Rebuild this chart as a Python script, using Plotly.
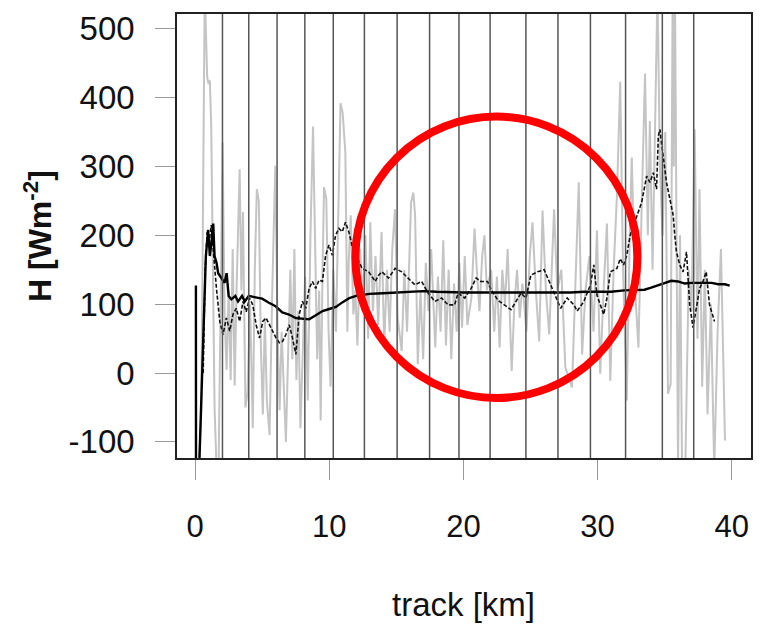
import plotly.graph_objects as go

# ---------------- data ----------------
# raw flux (light gray)
raw_km = [0.30, 0.45, 0.55, 0.65, 0.72, 0.80, 0.90, 1.00, 1.10, 1.20, 1.30, 1.45, 1.60, 1.75, 1.90,
          2.05, 2.20, 2.35, 2.50, 2.65, 2.80, 2.95, 3.10, 3.32, 3.45, 3.57, 3.75, 3.90, 4.10, 4.30,
          4.45, 4.60, 4.75, 4.90, 5.05, 5.20, 5.35, 5.55, 5.75, 5.98, 6.15, 6.30, 6.45, 6.60, 6.77,
          6.95, 7.10, 7.25, 7.40, 7.55, 7.70, 7.85, 8.00, 8.20, 8.40, 8.60, 8.79, 8.95, 9.10, 9.25,
          9.36, 9.50, 9.61, 9.78, 9.95, 10.10, 10.30, 10.50, 10.70, 10.84, 11.00, 11.20, 11.35, 11.45,
          11.60, 11.80, 11.95, 12.10, 12.30, 12.50, 12.70, 12.90, 13.06, 13.25, 13.45, 13.65, 13.90,
          14.10, 14.30, 14.50, 14.70, 14.90, 15.10, 15.40, 15.60, 15.80, 16.10, 16.27, 16.40, 16.60,
          16.80, 17.00, 17.20, 17.40, 17.60, 17.90, 18.10, 18.30, 18.50, 18.70, 18.90, 19.10, 19.30,
          19.50, 19.70, 19.90, 20.10, 20.30, 20.60, 20.83, 21.00, 21.20, 21.40, 21.57, 21.75, 22.07,
          22.30, 22.50, 22.70, 22.90, 23.10, 23.30, 23.60, 23.80, 24.00, 24.20, 24.40, 24.70, 24.95,
          25.15, 25.40, 25.65, 25.90, 26.15, 26.40, 26.76, 27.00, 27.30, 27.60, 28.10, 28.35, 28.60,
          28.85, 29.10, 29.40, 29.70, 29.96, 30.20, 30.45, 30.70, 30.95, 31.20, 31.45, 31.69, 31.90,
          32.18, 32.40, 32.55, 32.80, 33.05, 33.30, 33.54, 33.75, 33.90, 34.10, 34.47, 34.65, 34.85,
          35.05, 35.25, 35.45, 35.60, 35.68, 35.77, 36.00, 36.15, 36.30, 36.55, 36.80, 37.00, 37.24,
          37.45, 37.60, 37.80, 38.00, 38.20, 38.45, 38.70, 38.95, 39.20, 39.50]
raw_H = [-130, -60, 150, 420, 560, 500, 430, 420, 425, 360, 150, -50, -140, -140, 100,
         335, 80, 5, 120, -10, 180, -18, 130, 296, 120, 234, -50, -30, 100, -80,
         150, 267, 250, 40, -60, 80, -40, -90, 120, 301, 60, -54, 60, -20, -100,
         40, 150, 20, 180, -10, 90, -80, 30, 140, -40, 200, 358, 180, 20, 120,
         -69, 150, 270, 253, 60, -20, 150, 60, 250, 392, 378, 320, 60, 160,
         229, 85, 120, 40, 180, 100, 200, 50, 219, 90, 170, 70, 205,
         40, 150, 60, 180, 238, 80, 32, 150, 60, 248, 262, 229, 13,
         120, 20, 160, 90, 180, 37, 140, 60, 193, 40, 150, 20, 130,
         60, 160, 66, 170, 70, 110, 210, 150, 90, 170, 200, 120, 150,
         60, 140, 37, 150, 100, 180, 3, 100, 150, 80, 130, 60, 170,
         219, 120, 46, 236, 120, 56, 238, 120, 150, 8, -21, 130, 277,
         27, 120, 170, 60, 207, -1, 120, 217, -11, 150, 260, 423, 150,
         -40, 200, 313, 120, 37, 250, 435, 200, 366, 150, 560, 300, 200,
         350, -30, -16, 560, 300, 560, -140, 200, -140, -130, 150, 90, 354,
         50, 267, -20, 150, -60, 100, -140, 60, 180, -98]

# running mean (dashed)
run_km = [0.60, 0.75, 0.90, 1.05, 1.20, 1.35, 1.50, 1.59, 1.84, 2.08, 2.33, 2.58, 2.82, 3.07, 3.32,
          3.57, 3.81, 4.06, 4.30, 4.55, 4.80, 5.04, 5.29, 5.54, 5.78, 6.03, 6.28, 6.52, 6.77, 7.02,
          7.26, 7.51, 7.76, 8.00, 8.25, 8.50, 8.75, 8.99, 9.24, 9.49, 9.73, 9.98, 10.23, 10.47, 10.72,
          10.97, 11.21, 11.46, 11.70, 11.95, 12.20, 12.45, 12.94, 13.43, 13.68, 13.92, 14.42, 14.91,
          15.40, 15.90, 16.39, 16.89, 17.38, 17.87, 18.37, 18.86, 19.35, 19.60, 20.10, 20.58, 20.95,
          21.30, 21.80, 22.07, 22.56, 23.05, 23.55, 23.92, 24.29, 24.66, 25.03, 25.52, 26.02, 26.51,
          27.00, 27.25, 27.74, 28.24, 28.48, 28.98, 29.47, 29.72, 29.96, 30.46, 30.70, 30.95, 31.44,
          31.69, 31.94, 32.18, 32.43, 32.93, 33.29, 33.66, 33.91, 34.16, 34.40, 34.53, 34.65, 34.77,
          35.02, 35.14, 35.39, 35.64, 35.76, 35.88, 36.13, 36.38, 36.63, 36.87, 37.12, 37.36, 37.61,
          37.86, 38.10, 38.35, 38.60, 38.72]
run_H = [0, 150, 205, 190, 215, 180, 140, 123, 75, 56, 80, 61, 85, 94, 75,
         104, 89, 109, 99, 70, 51, 75, 80, 70, 61, 51, 44, 46, 56, 70,
         51, 27, 85, 104, 94, 123, 133, 123, 135, 133, 171, 186, 171, 200, 210,
         205, 219, 205, 185, 170, 162, 152, 147, 133, 142, 147, 138, 152,
         147, 138, 128, 133, 116, 104, 109, 99, 99, 116, 109, 123, 138,
         133, 133, 121, 106, 99, 92, 104, 116, 109, 142, 147, 150, 128,
         104, 94, 109, 99, 90, 104, 128, 157, 113, 85, 109, 147, 152,
         166, 157, 171, 200, 229, 248, 286, 277, 291, 267, 344, 354, 334,
         296, 277, 253, 229, 200, 176, 157, 147, 176, 99, 66, 94, 123,
         133, 147, 99, 80, 75]

# cumulative mean (solid)
cum_km = [0.06, 0.07, 0.30, 0.55, 0.80, 0.97, 1.10, 1.22, 1.35, 1.45, 1.60, 1.72, 1.97, 2.20, 2.35,
          2.50, 2.70, 3.00, 3.20, 3.50, 3.70, 4.00, 4.50, 5.00, 5.50, 6.00, 6.50, 7.00, 7.50, 8.00,
          8.50, 9.00, 9.50, 10.00, 10.50, 11.00, 11.50, 12.00, 12.50, 13.00, 14.00, 15.00, 16.00,
          17.00, 18.00, 19.00, 20.00, 21.00, 22.00, 23.00, 24.00, 25.00, 26.00, 27.00, 28.00, 29.00,
          30.00, 31.00, 32.00, 33.00, 33.50, 34.00, 34.50, 35.00, 35.50, 36.00, 36.50, 37.00, 37.50,
          38.00, 38.50, 39.00, 39.50, 39.85]
cum_H = [127, -300, -140, 20, 169, 208, 170, 190, 217, 170, 160, 145, 138, 131, 145,
         112, 107, 112, 104, 112, 104, 112, 110, 108, 102, 97, 88, 85, 80, 79,
         78, 84, 90, 93, 96, 103, 109, 112, 114, 115, 116, 117, 118,
         119, 118, 117, 117, 117, 117, 116, 117, 117, 117, 117, 117, 118,
         118, 118, 120, 121, 121, 124, 127, 131, 134, 133, 130, 131, 131,
         130, 131, 129, 129, 127]

# segment boundaries (vertical lines)
segment_km = [2.04, 4.00, 6.11, 8.18, 10.30, 12.62, 15.06, 17.48, 19.67, 21.99,
              24.66, 27.05, 29.47, 32.09, 34.83, 37.17]

x_ticks = [0, 10, 20, 30, 40]
y_ticks = [-100, 0, 100, 200, 300, 400, 500]

# ---------------- figure ----------------
fig = go.Figure()
fig.add_trace(go.Scatter(x=raw_km, y=raw_H, mode="lines",
                         line=dict(color="#c4c4c4", width=2), hoverinfo="skip"))
fig.add_trace(go.Scatter(x=run_km, y=run_H, mode="lines",
                         line=dict(color="#111111", width=1.6, dash="4px,2px"), hoverinfo="skip"))
fig.add_trace(go.Scatter(x=cum_km, y=cum_H, mode="lines",
                         line=dict(color="#000000", width=2.4), hoverinfo="skip"))

for xv in segment_km:
    fig.add_shape(type="line", xref="x", yref="paper", x0=xv, x1=xv, y0=0, y1=1,
                  line=dict(color="#555555", width=1.5), layer="above")

# red highlight circle
fig.add_shape(type="circle", xref="x", yref="y", x0=11.95, x1=32.97, y0=-36.3, y1=372.5,
              line=dict(color="#ff0000", width=8), layer="above")

font_family = "Liberation Sans, Arial, Helvetica, sans-serif"

fig.update_layout(
    width=767, height=624,
    margin=dict(l=177, r=16, t=10, b=166),
    paper_bgcolor="white", plot_bgcolor="white",
    showlegend=False,
    font=dict(family=font_family, color="#111111"),
    xaxis=dict(range=[-1.35, 41.44], tickvals=x_ticks, ticktext=[str(v) for v in x_ticks],
               showgrid=False, zeroline=False, showline=True, mirror=True,
               linecolor="#222222", linewidth=1.5,
               ticks="outside", ticklen=20, tickwidth=1, tickcolor="#999999",
               tickfont=dict(size=31, family=font_family, color="#111111"),
               ticklabelstandoff=20),
    yaxis=dict(range=[-123.4, 521.5], tickvals=y_ticks, ticktext=[str(v) for v in y_ticks],
               showgrid=False, zeroline=False, showline=True, mirror=True,
               linecolor="#222222", linewidth=1.5,
               ticks="outside", ticklen=20, tickwidth=1, tickcolor="#999999",
               tickfont=dict(size=33, family=font_family, color="#111111"),
               ticklabelstandoff=14),
    annotations=[
        dict(text="<b>H [Wm<sup>-2</sup>]</b>", xref="paper", yref="paper",
             x=(38 - 177) / 574, y=0.5, xanchor="center", yanchor="middle",
             textangle=-90, showarrow=False,
             font=dict(size=32, family=font_family, color="#111111")),
        dict(text="track [km]", xref="paper", yref="paper",
             x=(463 - 177) / 574, y=(458 - 606) / 448, xanchor="center", yanchor="middle",
             showarrow=False, font=dict(size=33, family=font_family, color="#111111")),
    ],
)

fig.write_html("out.html")
